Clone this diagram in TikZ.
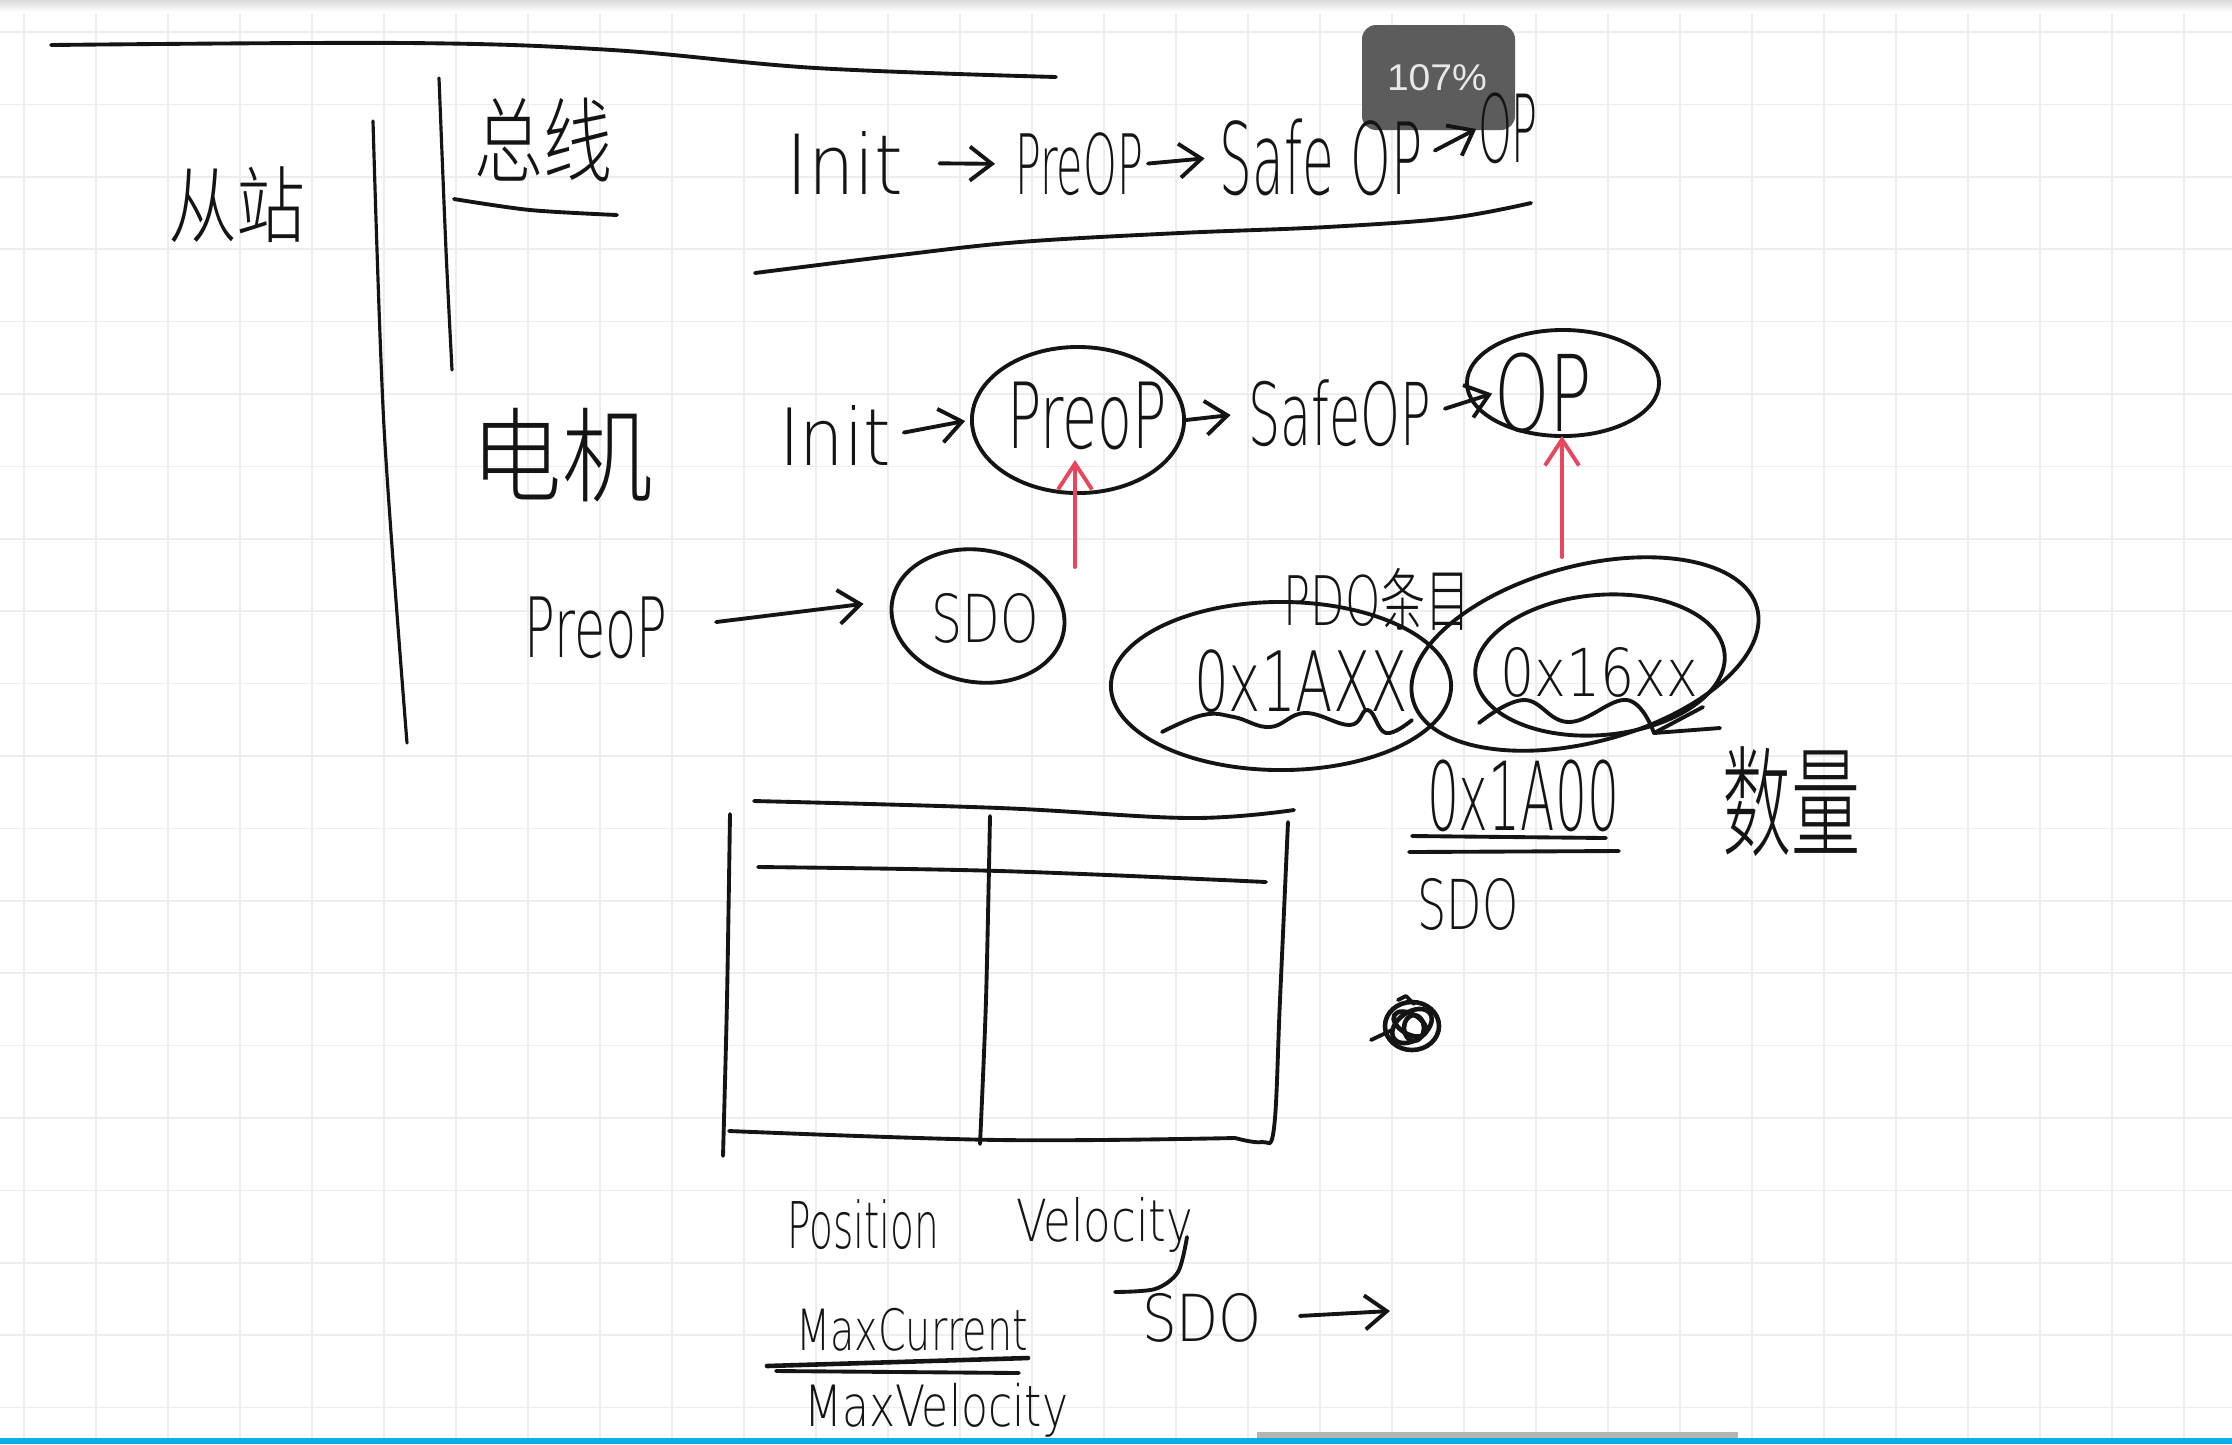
\documentclass[tikz,border=0pt]{standalone}
\usepackage{fontspec}
\usepackage{graphicx}
\usetikzlibrary{arrows.meta,shapes.geometric,calc}
\IfFontExistsTF{DejaVu Sans ExtraLight}{\newfontfamily\hand{DejaVu Sans ExtraLight}}{\newfontfamily\hand{DejaVu Sans}}
\IfFontExistsTF{Noto Sans CJK SC Light}{\newfontfamily\cjk{Noto Sans CJK SC Light}}{\newfontfamily\cjk{Noto Sans CJK SC}}
\newfontfamily\uifont{Liberation Sans}
\newlength\pxu
\setlength\pxu{0.01cm}
\newcommand{\hw}[3]{\resizebox*{#1\pxu}{#2\pxu}{\hand #3}}
\newcommand{\hwb}[3]{\resizebox{#1\pxu}{#2\pxu}{\hand #3}}
\newcommand{\hz}[3]{\resizebox*{#1\pxu}{#2\pxu}{\cjk #3}}
\definecolor{inkc}{HTML}{141414}
\definecolor{redc}{HTML}{E8455F}
\definecolor{gridc}{HTML}{EDEDED}
\definecolor{badgec}{HTML}{5C5C5C}
\definecolor{badgetxt}{HTML}{E8E8E8}
\definecolor{bluec}{HTML}{0AADE6}
\definecolor{scrollc}{HTML}{B4B4B4}
\tikzset{
  ink/.style={draw=inkc, line width=1.1pt, line cap=round, line join=round},
  harrow/.style={ink, -{Straight Barb[length=2.2mm,width=3.4mm]}},
  rarrow/.style={draw=redc, line width=1.1pt, line cap=round, -{Straight Barb[length=2.6mm,width=3.4mm]}},
  lbl/.style={inner sep=0pt, outer sep=0pt, text=inkc},
  ell/.style={ink, ellipse, inner sep=0pt},
  gridline/.style={draw=gridc, line width=0.45pt},
}
\begin{document}
\begin{tikzpicture}[x=0.01cm,y=-0.01cm]
\useasboundingbox (0,0) rectangle (2232,1444);
\fill[white] (0,0) rectangle (2232,1444);
% grid
\foreach \gx in {24,96,...,2232} \draw[gridline] (\gx,0) -- (\gx,1444);
\foreach \gi in {0,...,19} {\pgfmathsetmacro\gy{32+72.4*\gi}\draw[gridline] (0,\gy) -- (2232,\gy);}
% top shadow band
\fill[top color=black!14, bottom color=white] (0,0) rectangle (2232,12);
% zoom badge
\fill[badgec, rounded corners=0.14cm] (1362,25) rectangle (1515,130);
\node[inner sep=0pt, text=badgetxt] (badge) at (1437,78) {\resizebox{100\pxu}{26\pxu}{\uifont 107\%}};

% top long curve
\draw[ink] plot[smooth, tension=0.6] coordinates {(51,45) (408,43) (612,50) (816,68) (1056,77)};
% vertical lines
\draw[ink, line width=0.9pt] plot[smooth] coordinates {(373,121) (384,427) (407,743)};
\draw[ink, line width=0.9pt] plot[smooth] coordinates {(439,78) (446,250) (452,370)};

% left labels
\node[lbl] (congzhan) at (237,205) {\hz{138}{76}{从站}};
\node[lbl] (zongxian) at (543,140) {\hz{138}{84}{总线}};
\draw[ink] plot[smooth] coordinates {(454,199) (530,210) (617,215)};
\node[lbl] (dianji) at (562,455) {\hz{181}{94}{电机}};

% top row (bus)
\node[lbl] (tinit) at (845,163) {\hw{117}{63}{Init}};
\node[lbl] (tpreop) at (1079,164) {\hw{128}{63}{PreOP}};
\node[lbl] (tsafeop) at (1321,157) {\hw{203}{77}{Safe OP}};
\node[lbl] (top) at (1508,128) {\hw{60}{71}{OP}};
\draw[harrow, shorten <=36\pxu, shorten >=20\pxu] (tinit.east) -- (tpreop.west);
\draw[harrow, shorten <=5\pxu, shorten >=15\pxu] (tpreop.east) -- (tsafeop.west);
\draw[harrow, shorten <=14\pxu, shorten >=2\pxu] (tsafeop.east) -- (top.west);
\draw[ink] plot[smooth, tension=0.6] coordinates {(755,273) (900,255) (1020,242) (1180,233) (1327,227) (1450,218) (1531,203)};

% second row (motor)
\node[lbl] (minit) at (835,435) {\hw{112}{60}{Init}};
\node[ell, minimum width=2.12cm, minimum height=1.46cm] (preopE) at (1078,420) {};
\node[lbl] (mpreop) at (1087,416) {\hw{160}{68}{PreoP}};
\node[lbl] (msafeop) at (1340,413) {\hw{183}{67}{SafeOP}};
\node[ell, minimum width=1.92cm, minimum height=1.06cm] (opE) at (1563,383) {};
\node[lbl] (mop) at (1543,393) {\hw{98}{80}{OP}};
\draw[harrow, shorten <=13\pxu, shorten >=5\pxu] (minit.east) -- (preopE.west);
\draw[harrow, shorten >=18\pxu] (preopE.east) -- (msafeop.west);
\draw[harrow, shorten <=14\pxu, shorten >=2\pxu] (msafeop.east) -- (mop.west);

% red arrows
\coordinate (r1s) at (1075,567);
\coordinate (r2s) at (1562,557);
\draw[rarrow, shorten >=-35\pxu] (r1s) -- (r1s |- preopE.south);
\draw[rarrow, shorten >=-2\pxu] (r2s) -- (r2s |- opE.south);

% third row
\node[lbl] (ppreop) at (596,628) {\hw{143}{62}{PreoP}};
\node[ell, minimum width=1.74cm, minimum height=1.32cm, rotate=-10] (sdoE) at (978,616) {};
\node[lbl] (sdo) at (985,618) {\hw{107}{50}{SDO}};
\draw[harrow, shorten <=49\pxu, shorten >=27\pxu] (ppreop.east) -- (sdoE.west);

% PDO group
\node[lbl] (pdo) at (1377,599) {\resizebox*{187\pxu}{62\pxu}{\hand PDO\cjk 条目}};
\node[ell, minimum width=3.40cm, minimum height=1.68cm] (axE) at (1281,686) {};
\node[lbl] (ax) at (1301,681) {\hw{214}{63}{0x1AXX}};
\node[ell, minimum width=3.56cm, minimum height=1.76cm, rotate=15] (sxE) at (1585,654) {};
\node[ell, minimum width=2.50cm, minimum height=1.40cm, rotate=5] (sxI) at (1600,665) {};
\node[lbl] (sx) at (1599,672) {\hw{198}{50}{0x16xx}};
\draw[ink] plot[smooth, tension=0.7] coordinates {(1162,732) (1203,715) (1234,717) (1270,727) (1305,713) (1350,725) (1368,710) (1386,733) (1412,720)};
\draw[ink] plot[smooth, tension=0.7] coordinates {(1479,723) (1524,700) (1569,722) (1627,700) (1654,733)};
\draw[ink] (1654,733) -- (1703,707);
\draw[ink] (1654,733) -- (1720,728);

% 0x1A00 / SDO
\node[lbl] (a00) at (1523,796) {\hw{192}{72}{0x1A00}};
\draw[ink] (1412,836) -- (1606,838);
\draw[ink] (1409,852) -- (1619,851);
\node[lbl] (sdo2) at (1468,904) {\hw{101}{52}{SDO}};
\node[lbl] (shuliang) at (1791,802) {\hz{138}{110}{数量}};

% scribble
\draw[ink, line width=1.3pt] (1412,1026) ellipse [x radius=0.27cm, y radius=0.24cm];
\draw[ink, line width=1.3pt, rotate around={35:(1412,1026)}] (1412,1026) ellipse [x radius=0.22cm, y radius=0.14cm];
\draw[ink, line width=1.3pt, rotate around={-30:(1410,1024)}] (1410,1024) ellipse [x radius=0.18cm, y radius=0.10cm];
\draw[ink, line width=1.3pt] (1414,1028) ellipse [x radius=0.10cm, y radius=0.13cm];
\draw[ink] (1371,1040) -- (1392,1030);
\draw[ink] (1398,1000) -- (1406,996) -- (1414,1004);

% table
\draw[ink] plot[smooth] coordinates {(730,814) (727,1000) (723,1156)};
\draw[ink] plot[smooth, tension=0.6] coordinates {(754,801) (1000,808) (1190,818) (1294,810)};
\draw[ink] plot[smooth, tension=0.6] coordinates {(1288,822) (1280,1000) (1274,1128) (1262,1142) (1235,1138)};
\draw[ink] plot[smooth, tension=0.6] coordinates {(729,1131) (1000,1140) (1235,1138)};
\draw[ink] plot[smooth, tension=0.6] coordinates {(758,867) (1000,871) (1266,882)};
\draw[ink] plot[smooth] coordinates {(990,816) (986,1000) (980,1144)};

% labels under table
\node[lbl] (position) at (863,1225) {\hw{152}{50}{Position}};
\node[lbl, anchor=base west] (velocity) at (1016,1241) {\hwb{177}{44}{Velocity}};
\draw[ink] plot[smooth] coordinates {(1187,1237) (1178,1272) (1155,1289) (1115,1292)};
\node[lbl] (sdo3) at (1202,1318) {\hw{120}{49}{SDO}};
\coordinate (sdoend) at (1390,1311);
\draw[harrow, shorten <=38\pxu] (sdo3.east) -- (sdoend);
\node[lbl] (maxcur) at (912,1330) {\hw{232}{43}{MaxCurrent}};
\draw[ink, line width=1.3pt] (767,1366) -- (1028,1358);
\draw[ink] (776,1371) -- (1019,1373);
\node[lbl, anchor=south west] (maxvel) at (804,1437) {\hw{264}{54}{MaxVelocity}};

% bottom bars
\fill[scrollc] (1257,1432) rectangle (1738,1438);
\fill[bluec] (0,1438) rectangle (2232,1444);
\end{tikzpicture}
\end{document}
